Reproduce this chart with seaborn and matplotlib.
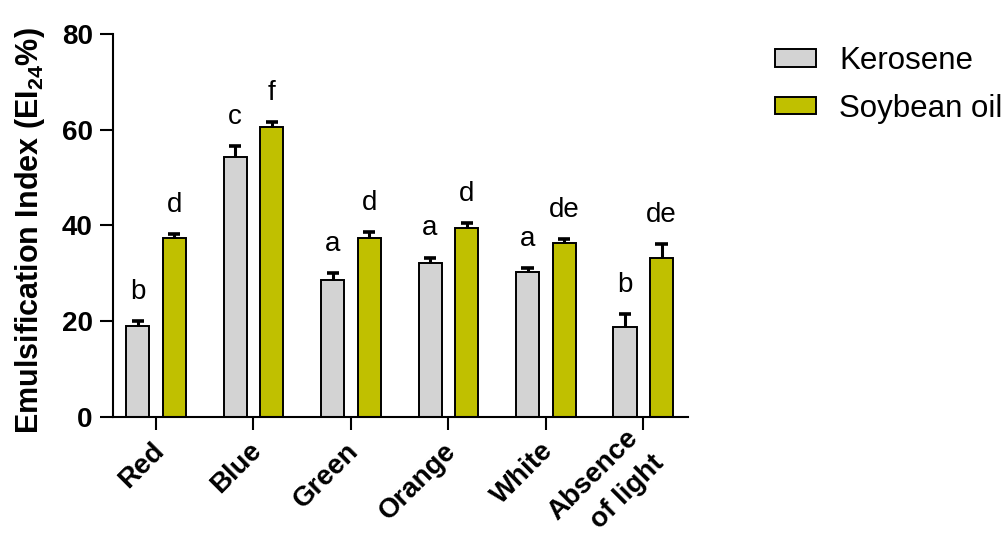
import numpy as np
import pandas as pd
import matplotlib
matplotlib.use("Agg")
import matplotlib.pyplot as plt
import matplotlib.transforms as mtransforms
import seaborn as sns
from matplotlib.patches import Patch

# values (mean and upper SD)
lights = ["Red", "Blue", "Green", "Orange", "White", "Absence\nof light"]
oils = ["Kerosene", "Soybean oil"]
kerosene_mean = [19.0, 54.3, 28.7, 32.2, 30.3, 18.7]
kerosene_sd = [1.1, 2.3, 1.4, 1.1, 0.8, 2.8]
soybean_mean = [37.4, 60.6, 37.4, 39.4, 36.3, 33.2]
soybean_sd = [0.8, 1.0, 1.2, 1.2, 0.8, 2.9]
kerosene_letters = ["b", "c", "a", "a", "a", "b"]
soybean_letters = ["d", "f", "d", "d", "de", "de"]
colors = ["#D3D3D3", "#C0C000"]

df = pd.DataFrame({
    "light": lights * 2,
    "oil": [oils[0]] * len(lights) + [oils[1]] * len(lights),
    "ei": kerosene_mean + soybean_mean,
    "sd": kerosene_sd + soybean_sd,
    "letter": kerosene_letters + soybean_letters,
})

sns.set_theme(style="ticks")
plt.rcParams["font.family"] = ["Liberation Sans", "DejaVu Sans"]
plt.rcParams["mathtext.fontset"] = "custom"
plt.rcParams["mathtext.rm"] = "Liberation Sans"
plt.rcParams["mathtext.bf"] = "Liberation Sans:bold"
for key in ["text.color", "axes.labelcolor", "xtick.color", "ytick.color", "axes.edgecolor"]:
    plt.rcParams[key] = "black"

fig = plt.figure(figsize=(10.06, 5.5), dpi=100)
ax = fig.add_axes([0.1123, 0.2418, 0.5717, 0.6967])

sns.barplot(
    data=df, x="light", y="ei", hue="oil", hue_order=oils,
    palette=colors, saturation=1, errorbar=None, width=0.75, gap=0.37,
    edgecolor="black", linewidth=1.4, legend=False, ax=ax,
)

# upper-only SD bars and significance letters
cap = 0.062
for oil, cont in zip(oils, ax.containers):
    sub = df[df["oil"] == oil]
    xs = np.array([p.get_x() + p.get_width() / 2 for p in cont.patches])
    tops = sub["ei"].to_numpy()
    ups = tops + sub["sd"].to_numpy()
    ax.vlines(xs, tops, ups, color="black", linewidth=2.2, zorder=1)
    ax.hlines(ups, xs - cap, xs + cap, color="black", linewidth=2.6, zorder=3)
    for x, u, let in zip(xs, ups, sub["letter"]):
        ax.text(x, u + 4.6, let, ha="center", va="baseline",
                fontsize=20, color="black")

ax.set_ylim(0, 80)
ax.set_xlim(-0.44, 5.46)
ax.set_yticks([0, 20, 40, 60, 80])
ax.set_xlabel("")
ax.set_ylabel(r"Emulsification Index (EI$_{\mathbf{24}}$%)", fontsize=22,
              fontweight="bold")
ax.yaxis.set_label_coords(-0.115, 0.486)
ax.tick_params(axis="both", length=9.5, width=1.5, color="black")
ax.tick_params(axis="y", labelsize=20, pad=5)
ax.tick_params(axis="x", pad=12)
for lab in ax.get_yticklabels():
    lab.set_fontweight("bold")
ax.set_xticks(range(len(lights)))
ax.set_xticklabels(lights, rotation=45, ha="right", va="center",
                   rotation_mode="anchor", fontsize=20, fontweight="bold",
                   multialignment="right", linespacing=1.5)
shift = mtransforms.ScaledTranslation(4 / 100, 0, fig.dpi_scale_trans)
for lab in ax.get_xticklabels():
    lab.set_transform(lab.get_transform() + shift)
for sp in ["left", "bottom"]:
    ax.spines[sp].set_linewidth(1.5)
sns.despine(ax=ax)

handles = [Patch(facecolor=c, edgecolor="black", linewidth=1.4) for c in colors]
ax.legend(handles, oils, loc="upper left", bbox_to_anchor=(1.151, 0.967),
          frameon=False, fontsize=22.5, handlelength=1.3, handleheight=0.5,
          labelspacing=0.55, handletextpad=0.75, borderpad=0, borderaxespad=0)

fig.savefig("out.png", dpi=100)
